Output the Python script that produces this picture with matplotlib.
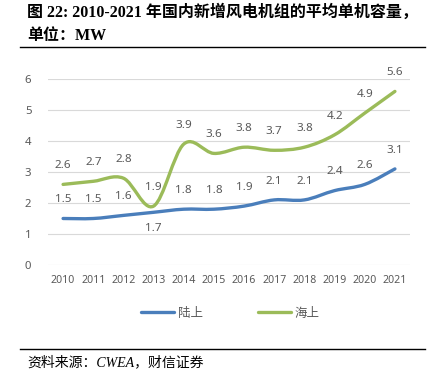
import matplotlib
matplotlib.use("Agg")
import matplotlib.pyplot as plt
from matplotlib.path import Path
from matplotlib.patches import PathPatch
from matplotlib.lines import Line2D
import numpy as np

years = ["2010", "2011", "2012", "2013", "2014", "2015", "2016",
         "2017", "2018", "2019", "2020", "2021"]
onshore = [1.5, 1.5, 1.6, 1.7, 1.8, 1.8, 1.9, 2.1, 2.1, 2.4, 2.6, 3.1]
offshore = [2.6, 2.7, 2.8, 1.9, 3.9, 3.6, 3.8, 3.7, 3.8, 4.2, 4.9, 5.6]
series_names = ["陆上", "海上"]

BLUE = "#4A7EBB"
GREEN = "#9BBB59"
GREY = "#595959"

title_font = ["Liberation Serif", "Noto Sans CJK SC"]
body_font = ["Noto Sans", "Noto Sans CJK SC"]


def smooth_path(xs, ys):
    # Catmull-Rom style smoothing, like Excel's "smoothed line"
    pts = np.column_stack([xs, ys]).astype(float)
    verts = [pts[0]]
    codes = [Path.MOVETO]
    n = len(pts)
    for i in range(n - 1):
        p0 = pts[max(i - 1, 0)]
        p1 = pts[i]
        p2 = pts[i + 1]
        p3 = pts[min(i + 2, n - 1)]
        verts += [p1 + (p2 - p0) / 6, p2 - (p3 - p1) / 6, p2]
        codes += [Path.CURVE4] * 3
    return Path(verts, codes)


fig = plt.figure(figsize=(4.34, 3.83), dpi=100)
ax = fig.add_axes([48 / 434, 1 - 265 / 383, 362 / 434, 186 / 383])

x = np.arange(len(years))
for vals, col in [(onshore, BLUE), (offshore, GREEN)]:
    ax.add_patch(PathPatch(smooth_path(x, vals), facecolor="none",
                           edgecolor=col, lw=2.4, capstyle="round",
                           transform=ax.transData, zorder=3))

# data labels
for i, v in enumerate(onshore):
    dy = -11.5 if years[i] == "2013" else 13.5
    ax.annotate(f"{v:.1f}", (i, v), xytext=(0, dy), textcoords="offset points",
                ha="center", va="center", fontsize=8.4, color=GREY,
                family=body_font, annotation_clip=False)
for i, v in enumerate(offshore):
    ax.annotate(f"{v:.1f}", (i, v), xytext=(0, 13.5), textcoords="offset points",
                ha="center", va="center", fontsize=8.4, color=GREY,
                family=body_font, annotation_clip=False)

ax.set_xlim(-0.5, len(years) - 0.5)
ax.set_ylim(0, 6)
ax.set_yticks(range(0, 7))
ax.set_xticks(x)
ax.set_xticklabels(years)
ax.grid(axis="y", color="#D9D9D9", lw=0.8)
ax.set_axisbelow(True)
for s in ax.spines.values():
    s.set_visible(False)
ax.tick_params(length=0, labelsize=7.6, colors=GREY, pad=7)
ax.tick_params(axis="y", pad=12, labelsize=8.2)
for lab in ax.get_xticklabels() + ax.get_yticklabels():
    lab.set_family(body_font)

handles = [Line2D([], [], color=BLUE, lw=2.4, solid_capstyle="round"),
           Line2D([], [], color=GREEN, lw=2.4, solid_capstyle="round")]
leg = fig.legend(handles, series_names, loc="center", ncol=2,
                 bbox_to_anchor=(230 / 434, 1 - 313 / 383), frameon=False,
                 handlelength=2.7, handletextpad=0.25, columnspacing=4.4,
                 prop={"family": "Noto Sans CJK SC", "size": 9})
for t in leg.get_texts():
    t.set_color(GREY)

# title and source
fig.text(27 / 434, 1 - 13 / 383, "图 22: 2010-2021 年国内新增风电机组的平均单机容量，",
         fontsize=11.5, fontweight="bold", family=title_font, va="center")
fig.text(27 / 434, 1 - 36 / 383, "单位：MW",
         fontsize=11.5, fontweight="bold", family=title_font, va="center")
fig.add_artist(Line2D([20 / 434, 425 / 434], [1 - 47 / 383] * 2, color="black", lw=1))
fig.add_artist(Line2D([20 / 434, 425 / 434], [1 - 349 / 383] * 2, color="black", lw=1))
fig.text(27 / 434, 1 - 362 / 383, "资料来源：CWEA，财信证券", fontsize=10,
         style="italic", family=title_font, va="center")

fig.savefig("out.png", dpi=100)
